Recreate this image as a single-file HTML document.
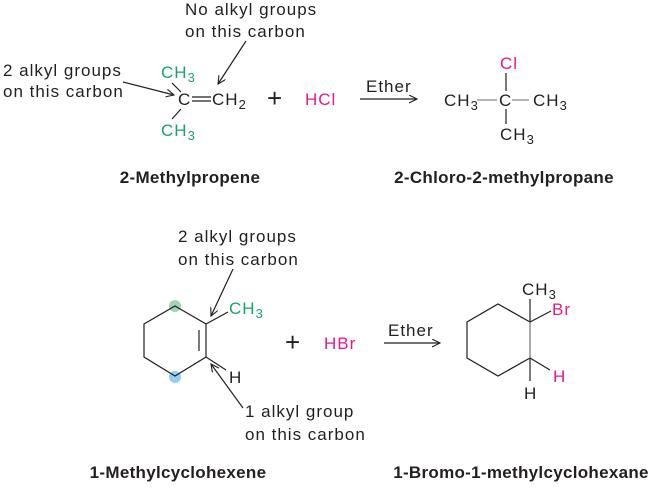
<!DOCTYPE html>
<html><head><meta charset="utf-8"><style>
html,body{margin:0;padding:0;background:#fff;}
svg{display:block;font-family:"Liberation Sans",Arial,sans-serif;}
.t{font-size:17px;letter-spacing:1px;fill:#231f20;}
.g{fill:#1aa36b;}
.p{fill:#e6198a;}
.b{font-weight:bold;font-size:17px;letter-spacing:0.3px;fill:#231f20;}
.pl{font-size:26px;fill:#231f20;}
line,polyline,polygon{stroke:#231f20;stroke-width:1.2;fill:none;}
</style></head><body>
<svg width="654" height="490" viewBox="0 0 654 490">
<defs><marker id="a" markerWidth="10" markerHeight="10" refX="8" refY="4" orient="auto" markerUnits="userSpaceOnUse"><path d="M0,0 L8,4 L0,8" fill="none" stroke="#231f20" stroke-width="1.1"/></marker></defs>

<!-- Top reaction -->
<text class="t" x="185" y="15">No alkyl groups</text>
<text class="t" x="185" y="37">on this carbon</text>
<text class="t" x="3" y="76">2 alkyl groups</text>
<text class="t" x="3" y="97">on this carbon</text>
<line x1="123" y1="82" x2="174" y2="95" marker-end="url(#a)"/>
<line x1="246" y1="41" x2="218" y2="84" marker-end="url(#a)"/>
<text class="t g" x="161" y="78">CH<tspan font-size="13" dy="4">3</tspan></text>
<line x1="172" y1="83" x2="181" y2="92"/>
<text class="t" x="178" y="105">C</text>
<line x1="192" y1="97" x2="211" y2="97"/><line x1="192" y1="101" x2="211" y2="101"/>
<text class="t" x="212" y="105">CH<tspan font-size="13" dy="4">2</tspan></text>
<line x1="181" y1="109" x2="172" y2="119"/>
<text class="t g" x="161" y="136">CH<tspan font-size="13" dy="4">3</tspan></text>
<text class="pl" x="267" y="107">+</text>
<text class="t p" x="305" y="105">HCl</text>
<text class="t" x="366" y="92" font-size="15">Ether</text>
<line x1="360" y1="99" x2="417" y2="99" marker-end="url(#a)"/>
<text class="t" x="444" y="106">CH<tspan font-size="13" dy="4">3</tspan></text>
<line x1="477" y1="100" x2="497" y2="100" style="stroke:#888"/>
<text class="t" x="499" y="106">C</text>
<line x1="512" y1="100" x2="529" y2="100" style="stroke:#888"/>
<text class="t" x="533" y="106">CH<tspan font-size="13" dy="4">3</tspan></text>
<text class="t p" x="500" y="69">Cl</text>
<line x1="506" y1="73" x2="506" y2="91"/>
<line x1="506" y1="109" x2="506" y2="124"/>
<text class="t" x="500" y="140">CH<tspan font-size="13" dy="4">3</tspan></text>
<text class="b" x="190" y="183" text-anchor="middle">2-Methylpropene</text>
<text class="b" x="504" y="183" text-anchor="middle">2-Chloro-2-methylpropane</text>

<!-- Bottom reaction -->
<text class="t" x="178" y="242">2 alkyl groups</text>
<text class="t" x="178" y="265">on this carbon</text>
<circle cx="175" cy="306" r="6" fill="#9fd4b0"/>
<circle cx="175" cy="377" r="6" fill="#8fd0f5"/>
<polygon points="175,306 206,324 206,357 175,376 144,357 144,324"/>
<line x1="199" y1="330" x2="199" y2="351"/>
<line x1="206" y1="324" x2="228" y2="312"/>
<line x1="206" y1="357" x2="226" y2="370"/>
<text class="t g" x="229" y="314">CH<tspan font-size="13" dy="4">3</tspan></text>
<text class="t" x="229" y="383">H</text>
<line x1="233" y1="269" x2="211" y2="316" marker-end="url(#a)"/>
<line x1="243" y1="408" x2="211" y2="364" marker-end="url(#a)"/>
<text class="t" x="245" y="417">1 alkyl group</text>
<text class="t" x="245" y="440">on this carbon</text>
<text class="pl" x="285" y="351">+</text>
<text class="t p" x="324" y="349">HBr</text>
<text class="t" x="388" y="336" font-size="15">Ether</text>
<line x1="384" y1="343" x2="440" y2="343" marker-end="url(#a)"/>
<polyline points="530,322 498,304 467,322 467,358 498,376 530,358"/>
<line x1="530" y1="322" x2="530" y2="358" style="stroke:#aaa;stroke-width:2"/>
<line x1="530" y1="322" x2="530" y2="299"/>
<line x1="530" y1="322" x2="551" y2="311"/>
<line x1="530" y1="358" x2="550" y2="370"/>
<line x1="530" y1="358" x2="530" y2="381"/>
<text class="t" x="522" y="295">CH<tspan font-size="13" dy="4">3</tspan></text>
<text class="t p" x="552" y="315">Br</text>
<text class="t p" x="553" y="382">H</text>
<text class="t" x="524" y="399">H</text>
<text class="b" x="178" y="478" text-anchor="middle">1-Methylcyclohexene</text>
<text class="b" x="521" y="478" text-anchor="middle">1-Bromo-1-methylcyclohexane</text>
</svg>
</body></html>
